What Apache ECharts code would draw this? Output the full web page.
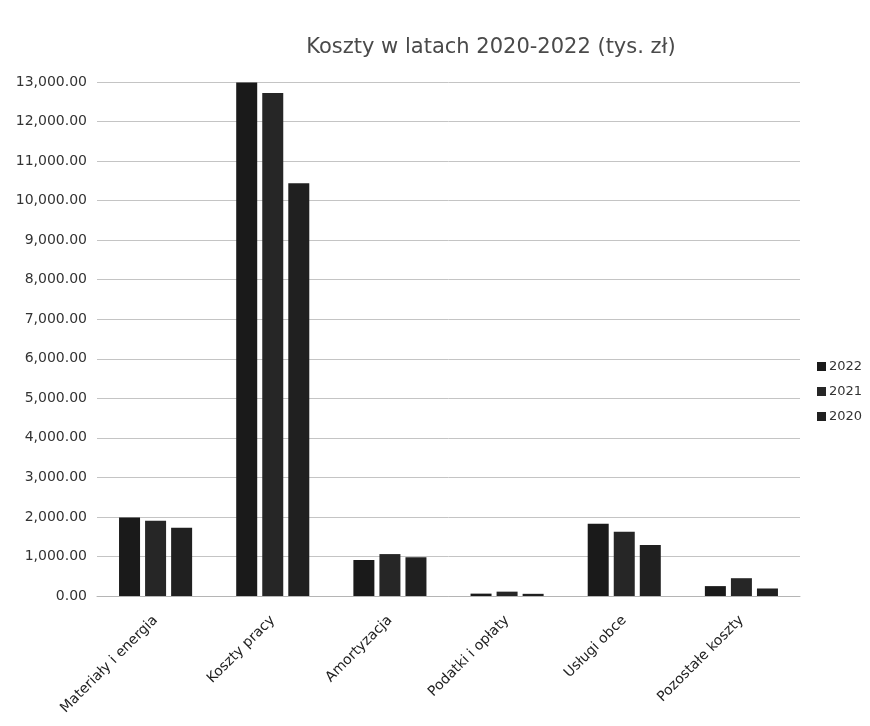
<!DOCTYPE html>
<html>
<head>
<meta charset="utf-8">
<script src="https://cdn.jsdelivr.net/npm/echarts@6/dist/echarts.min.js"></script>
<style>html,body{margin:0;padding:0;background:#fff;}#c{width:870px;height:726px;}</style>
</head>
<body>
<div id="c"></div>
<script>
const categories = ["Materiały i energia", "Koszty pracy", "Amortyzacja", "Podatki i opłaty", "Usługi obce", "Pozostałe koszty"];
const years = ["2022", "2021", "2020"];
const values2022 = [1985, 12990, 910, 60, 1830, 250];
const values2021 = [1905, 12720, 1060, 110, 1625, 450];
const values2020 = [1725, 10440, 980, 55, 1290, 190];
const yTicks = { min: 0, max: 13000, interval: 1000 };

const seriesData = [values2022, values2021, values2020];
const colors = ["#1a1a1a", "#262626", "#202020"];

const chart = echarts.init(document.getElementById('c'));
chart.setOption({
  backgroundColor: '#ffffff',
  animation: false,
  title: {
    text: 'Koszty w latach 2020-2022 (tys. zł)',
    left: 486, top: 32, textAlign: 'center',
    textStyle: { fontFamily: 'DejaVu Sans', fontSize: 21, fontWeight: 'normal', color: '#4a4a4a' }
  },
  legend: {
    orient: 'vertical', left: 812, top: 355,
    itemWidth: 9, itemHeight: 9, itemGap: 12,
    icon: 'rect',
    data: years,
    textStyle: { fontFamily: 'DejaVu Sans', fontSize: 13, color: '#333', padding: [0, 0, 0, -2] }
  },
  grid: { left: 97, right: 70, top: 82, bottom: 130, containLabel: false },
  xAxis: {
    type: 'category',
    data: categories,
    axisLine: { show: true, lineStyle: { color: '#b5b5b5', width: 1 } },
    axisTick: { show: false },
    axisLabel: { rotate: 45, interval: 0, margin: 22, fontFamily: 'DejaVu Sans', fontSize: 14, color: '#222' }
  },
  yAxis: {
    type: 'value',
    min: yTicks.min, max: yTicks.max, interval: yTicks.interval,
    axisLine: { show: false },
    axisTick: { show: false },
    splitLine: { lineStyle: { color: '#c4c4c4', width: 1 } },
    axisLabel: {
      margin: 10, fontFamily: 'DejaVu Sans', fontSize: 14, color: '#333',
      formatter: v => v.toLocaleString('en-US', { minimumFractionDigits: 2, maximumFractionDigits: 2 })
    }
  },
  series: years.map((y, i) => ({
    name: y,
    type: 'bar',
    data: seriesData[i],
    barWidth: 21,
    barGap: '24%',
    itemStyle: { color: colors[i] }
  }))
});
</script>
</body>
</html>
